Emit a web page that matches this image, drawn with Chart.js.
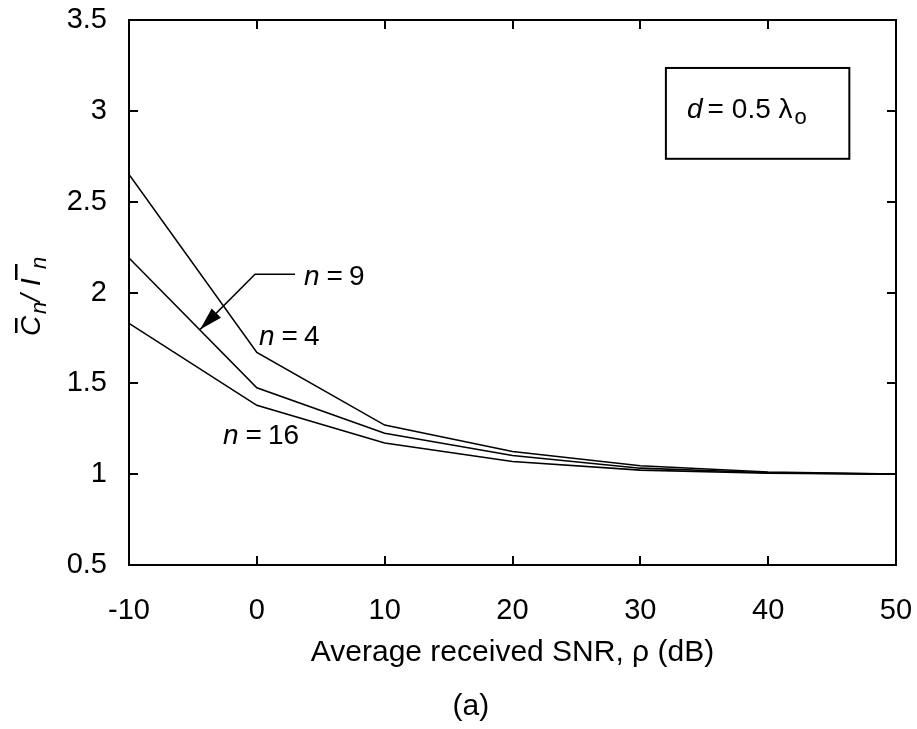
<!DOCTYPE html>
<html>
<head>
<meta charset="utf-8">
<title>C/I ratio vs SNR</title>
<script src="https://cdn.jsdelivr.net/npm/chart.js@4.4.1/dist/chart.umd.min.js"></script>
<style>
    html, body { margin: 0; padding: 0; background: #fff; }
    #wrap { width: 917px; height: 729px; }
</style>
</head>
<body>
<div id="wrap"><canvas id="ratioChart" width="917" height="729"></canvas></div>
<script>
// data
const snrDb = [-10, 0, 10, 20, 30, 40, 50];
const ratioN4 = [2.65, 1.67, 1.27, 1.125, 1.046, 1.012, 1.0];
const ratioN9 = [2.19, 1.476, 1.225, 1.103, 1.033, 1.008, 1.0];
const ratioN16 = [1.83, 1.379, 1.172, 1.07, 1.022, 1.005, 1.0];

const xTicks = [-10, 0, 10, 20, 30, 40, 50];
const yTicks = [0.5, 1, 1.5, 2, 2.5, 3, 3.5];

const FONT = '"Liberation Sans", Arial, Helvetica, sans-serif';

function toPoints(values) {
    return snrDb.map(function(x, i) { return { x: x, y: values[i] }; });
}

// draw a run of text pieces (italic n, subscripts ...) from a start point
function drawRich(ctx, x, y, parts) {
    parts.forEach(function(p) {
        ctx.font = p.font;
        ctx.fillText(p.text, x, y + (p.dy || 0));
        x += ctx.measureText(p.text).width + (p.after || 0);
    });
}

// frame, inner ticks, titles and annotations
const figurePlugin = {
    id: 'figure',
    afterDraw: function(chart) {
        const ctx = chart.ctx;
        const a = chart.chartArea;
        const xs = chart.scales.x;
        const ys = chart.scales.y;
        const tick = 9;

        ctx.save();
        ctx.strokeStyle = '#000';
        ctx.fillStyle = '#000';
        ctx.lineWidth = 2;
        ctx.strokeRect(a.left, a.top, a.right - a.left, a.bottom - a.top);

        ctx.beginPath();
        xTicks.forEach(function(v) {
            const px = Math.round(xs.getPixelForValue(v));
            ctx.moveTo(px, a.bottom); ctx.lineTo(px, a.bottom - tick);
            ctx.moveTo(px, a.top); ctx.lineTo(px, a.top + tick);
        });
        yTicks.forEach(function(v) {
            const py = Math.round(ys.getPixelForValue(v));
            ctx.moveTo(a.left, py); ctx.lineTo(a.left + tick, py);
            ctx.moveTo(a.right, py); ctx.lineTo(a.right - tick, py);
        });
        ctx.stroke();

        // x axis title and panel caption
        ctx.textAlign = 'center';
        ctx.textBaseline = 'alphabetic';
        ctx.font = '30px ' + FONT;
        ctx.fillText('Average received SNR, \u03c1 (dB)', (a.left + a.right) / 2, 661);
        ctx.fillText('(a)', xs.getPixelForValue(16.75), 715);

        // y axis title: C-bar_n / I-bar_n, rotated
        ctx.save();
        ctx.translate(29, 293);
        ctx.rotate(-Math.PI / 2);
        ctx.textAlign = 'left';
        ctx.font = 'italic 28px ' + FONT;
        ctx.fillText('C', -43, 11);
        ctx.fillRect(-40, -14, 15, 2.5);
        ctx.fillText('/', -9, 11);
        ctx.fillText('I', 7, 11);
        ctx.fillRect(13, -14, 16, 2.5);
        ctx.font = 'italic 22px ' + FONT;
        ctx.fillText('n', -21, 17);
        ctx.fillText('n', 24, 17);
        ctx.restore();

        // legend box
        ctx.lineWidth = 2;
        const bx0 = xs.getPixelForValue(32.0), bx1 = xs.getPixelForValue(46.35);
        const by0 = ys.getPixelForValue(3.236), by1 = ys.getPixelForValue(2.736);
        ctx.strokeRect(bx0, by0, bx1 - bx0, by1 - by0);
        ctx.textAlign = 'left';
        drawRich(ctx, bx0 + 21, ys.getPixelForValue(2.96), [
            { text: 'd', font: 'italic 28px ' + FONT, after: 5 },
            { text: '=', font: '28px ' + FONT, after: 8 },
            { text: '0.5 ', font: '28px ' + FONT },
            { text: '\u03bb', font: '28px ' + FONT, after: 2 },
            { text: 'o', font: '22px ' + FONT, dy: 6 }
        ]);

        // curve labels
        const lab = function(txt, xv, yv) {
            drawRich(ctx, xs.getPixelForValue(xv), ys.getPixelForValue(yv), [
                { text: 'n', font: 'italic 28px ' + FONT, after: 7 },
                { text: '=', font: '28px ' + FONT, after: 6 },
                { text: txt, font: '28px ' + FONT }
            ]);
        };
        lab('9', 3.69, 2.04);
        lab('4', 0.17, 1.71);
        lab('16', -2.65, 1.165);

        // leader with arrow for n = 9
        const hx0 = xs.getPixelForValue(2.99), hx1 = xs.getPixelForValue(-0.14);
        const hy = ys.getPixelForValue(2.1);
        const tx = xs.getPixelForValue(-4.44), ty = ys.getPixelForValue(1.797);
        ctx.lineWidth = 1.5;
        ctx.beginPath();
        ctx.moveTo(hx0, hy); ctx.lineTo(hx1, hy); ctx.lineTo(tx, ty);
        ctx.stroke();
        const ang = Math.atan2(ty - hy, tx - hx1);
        const len = 23, half = 6.5;
        const bxm = tx - len * Math.cos(ang), bym = ty - len * Math.sin(ang);
        ctx.beginPath();
        ctx.moveTo(tx, ty);
        ctx.lineTo(bxm + half * Math.sin(ang), bym - half * Math.cos(ang));
        ctx.lineTo(bxm - half * Math.sin(ang), bym + half * Math.cos(ang));
        ctx.closePath();
        ctx.fill();

        ctx.restore();
    }
};

const lineStyle = {
    borderColor: '#000',
    borderWidth: 1.6,
    pointRadius: 0,
    fill: false,
    tension: 0
};

new Chart(document.getElementById('ratioChart'), {
    type: 'line',
    data: {
        datasets: [
            Object.assign({ label: 'n = 4', data: toPoints(ratioN4) }, lineStyle),
            Object.assign({ label: 'n = 9', data: toPoints(ratioN9) }, lineStyle),
            Object.assign({ label: 'n = 16', data: toPoints(ratioN16) }, lineStyle)
        ]
    },
    options: {
        responsive: false,
        animation: false,
        layout: { padding: { top: 20, right: 21, left: 0, bottom: 0 } },
        plugins: {
            legend: { display: false },
            tooltip: { enabled: false }
        },
        scales: {
            x: {
                type: 'linear',
                min: -10,
                max: 50,
                grid: { display: false, drawTicks: false },
                border: { display: false },
                afterBuildTicks: function(scale) {
                    scale.ticks = xTicks.map(function(v) { return { value: v }; });
                },
                afterFit: function(scale) {
                    scale.height = 164;
                    scale.paddingLeft = 0;
                    scale.paddingRight = 0;
                },
                ticks: {
                    color: '#000',
                    padding: 29,
                    maxRotation: 0,
                    font: { family: FONT, size: 29 },
                    callback: function(value) { return String(value); }
                }
            },
            y: {
                type: 'linear',
                min: 0.5,
                max: 3.5,
                grid: { display: false, drawTicks: false },
                border: { display: false },
                afterBuildTicks: function(scale) {
                    scale.ticks = yTicks.map(function(v) { return { value: v }; });
                },
                afterFit: function(scale) {
                    scale.width = 129;
                    scale.paddingTop = 0;
                    scale.paddingBottom = 0;
                },
                ticks: {
                    color: '#000',
                    padding: 22,
                    font: { family: FONT, size: 29 },
                    callback: function(value) { return String(value); }
                }
            }
        }
    },
    plugins: [figurePlugin]
});
</script>
</body>
</html>
